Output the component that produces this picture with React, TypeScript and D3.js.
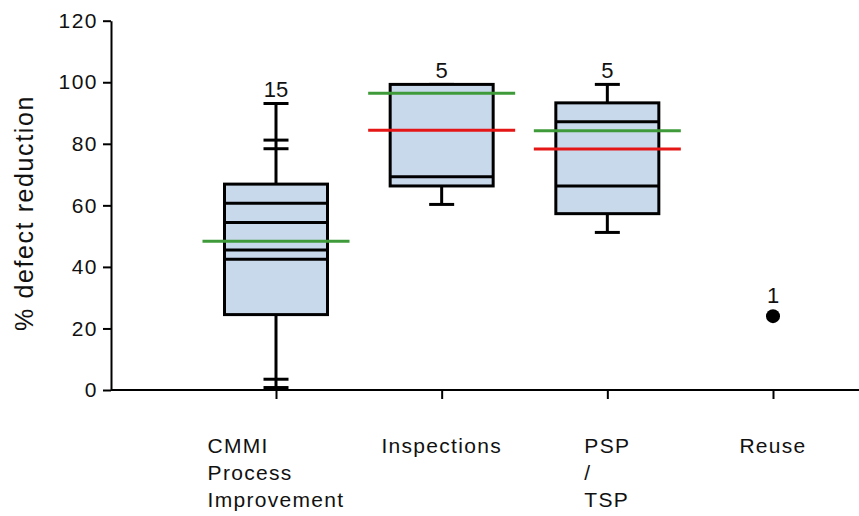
import React, { useEffect, useRef } from "react";
import * as d3 from "d3";

// values
const categories = ["CMMI\nProcess\nImprovement", "Inspections", "PSP\n/\nTSP", "Reuse"];
const counts = [15, 5, 5, 1];
const boxLow = [24.5, 66.3, 57.3, null];
const boxHigh = [66.9, 99.3, 93.3, null];
const innerLines = [[60.7, 54.4, 45.5, 42.5], [69.3], [87.2, 66.3], []];
const whiskerHigh = [93.1, 99.3, 99.3, null];
const whiskerLow = [0.8, 60.3, 51.2, null];
const whiskerMarks = [[81.2, 78.4, 3.5], [], [], []];
const greenLine = [48.3, 96.4, 84.2, null];
const redLine = [null, 84.4, 78.3, null];
const singlePoint = [null, null, null, 24];
const yTicks = [0, 20, 40, 60, 80, 100, 120];

const W = 859;
const H = 516;
const FONT = "'Liberation Sans', Arial, sans-serif";

export default function App() {
  const ref = useRef<SVGSVGElement>(null);

  useEffect(() => {
    document.body.style.margin = "0";
    drawChart();
  }, []);

  function drawChart() {
    const svg = d3.select(ref.current);
    svg.selectAll("*").remove();

    const axisX = 111;
    const axisY = 390;

    const y = d3.scaleLinear().domain([0, 120]).range([axisY, 20.7]);
    const x = d3.scalePoint().domain(categories).range([276, 773]);

    const boxW = 103;
    const meanW = 147;
    const capW = 25;

    // y axis
    const yAxis = svg
      .append("g")
      .attr("transform", `translate(${axisX},0)`)
      .call(d3.axisLeft(y).tickValues(yTicks).tickSize(8).tickSizeOuter(0).tickPadding(5));
    yAxis.selectAll("path, line").attr("stroke", "#000").attr("stroke-width", 2);
    yAxis
      .selectAll("text")
      .attr("font-family", FONT)
      .attr("font-size", 21)
      .attr("letter-spacing", 1.5)
      .attr("fill", "#111");

    // x axis
    svg
      .append("line")
      .attr("x1", axisX)
      .attr("x2", W)
      .attr("y1", axisY)
      .attr("y2", axisY)
      .attr("stroke", "#000")
      .attr("stroke-width", 2);
    const xAxis = svg
      .append("g")
      .attr("transform", `translate(0,${axisY})`)
      .call(d3.axisBottom(x).tickSize(9).tickSizeOuter(0).tickFormat(() => ""));
    xAxis.select(".domain").remove();
    xAxis.selectAll("line").attr("stroke", "#000").attr("stroke-width", 2);

    // category labels: left-aligned block centred under tick
    categories.forEach((c) => {
      const g = svg.append("g");
      const lines = c.split("\n");
      const t = g
        .append("text")
        .attr("font-family", FONT)
        .attr("font-size", 21)
        .attr("letter-spacing", 1.3)
        .attr("fill", "#111");
      lines.forEach((l, i) => {
        t.append("tspan").attr("x", 0).attr("y", 453 + i * 27).text(l);
      });
      const wdt = (t.node() as SVGTextElement).getBBox().width;
      g.attr("transform", `translate(${(x(c) as number) - wdt / 2},0)`);
    });

    // y title
    svg
      .append("text")
      .attr("transform", `translate(33,213) rotate(-90)`)
      .attr("text-anchor", "middle")
      .attr("font-family", FONT)
      .attr("font-size", 25)
      .attr("letter-spacing", 1.6)
      .attr("fill", "#111")
      .text("% defect reduction");

    const stroke = "#000";
    const sw = 3;

    categories.forEach((c, i) => {
      const cx = x(c) as number;
      const lo = boxLow[i];
      const hi = boxHigh[i];
      const wl = whiskerLow[i];
      const wh = whiskerHigh[i];

      if (lo != null && hi != null && wl != null && wh != null) {
        // whiskers
        svg
          .append("line")
          .attr("x1", cx)
          .attr("x2", cx)
          .attr("y1", y(wh))
          .attr("y2", y(wl))
          .attr("stroke", stroke)
          .attr("stroke-width", sw);
        [wh, wl, ...whiskerMarks[i]].forEach((v) => {
          svg
            .append("line")
            .attr("x1", cx - capW / 2)
            .attr("x2", cx + capW / 2)
            .attr("y1", y(v))
            .attr("y2", y(v))
            .attr("stroke", stroke)
            .attr("stroke-width", sw);
        });
        // box
        svg
          .append("rect")
          .attr("x", cx - boxW / 2)
          .attr("width", boxW)
          .attr("y", y(hi))
          .attr("height", y(lo) - y(hi))
          .attr("fill", "#c9d9ec")
          .attr("stroke", stroke)
          .attr("stroke-width", sw);
        innerLines[i].forEach((v) => {
          svg
            .append("line")
            .attr("x1", cx - boxW / 2)
            .attr("x2", cx + boxW / 2)
            .attr("y1", y(v))
            .attr("y2", y(v))
            .attr("stroke", stroke)
            .attr("stroke-width", sw);
        });
      }

      const g = greenLine[i];
      if (g != null) {
        svg
          .append("line")
          .attr("x1", cx - meanW / 2)
          .attr("x2", cx + meanW / 2)
          .attr("y1", y(g))
          .attr("y2", y(g))
          .attr("stroke", "#3f9b3a")
          .attr("stroke-width", 3);
      }
      const r = redLine[i];
      if (r != null) {
        svg
          .append("line")
          .attr("x1", cx - meanW / 2)
          .attr("x2", cx + meanW / 2)
          .attr("y1", y(r))
          .attr("y2", y(r))
          .attr("stroke", "#e51616")
          .attr("stroke-width", 3);
      }

      const p = singlePoint[i];
      let top = wh != null ? y(wh) : 0;
      if (p != null) {
        svg.append("circle").attr("cx", cx).attr("cy", y(p)).attr("r", 7).attr("fill", "#000");
        top = y(p) - 7;
      }

      svg
        .append("text")
        .attr("x", cx)
        .attr("y", top - 6)
        .attr("text-anchor", "middle")
        .attr("font-family", FONT)
        .attr("font-size", 22)
        .attr("fill", "#111")
        .text(counts[i]);
    });
  }

  return <svg ref={ref} width={W} height={H} style={{ display: "block", background: "#fff" }} />;
}
